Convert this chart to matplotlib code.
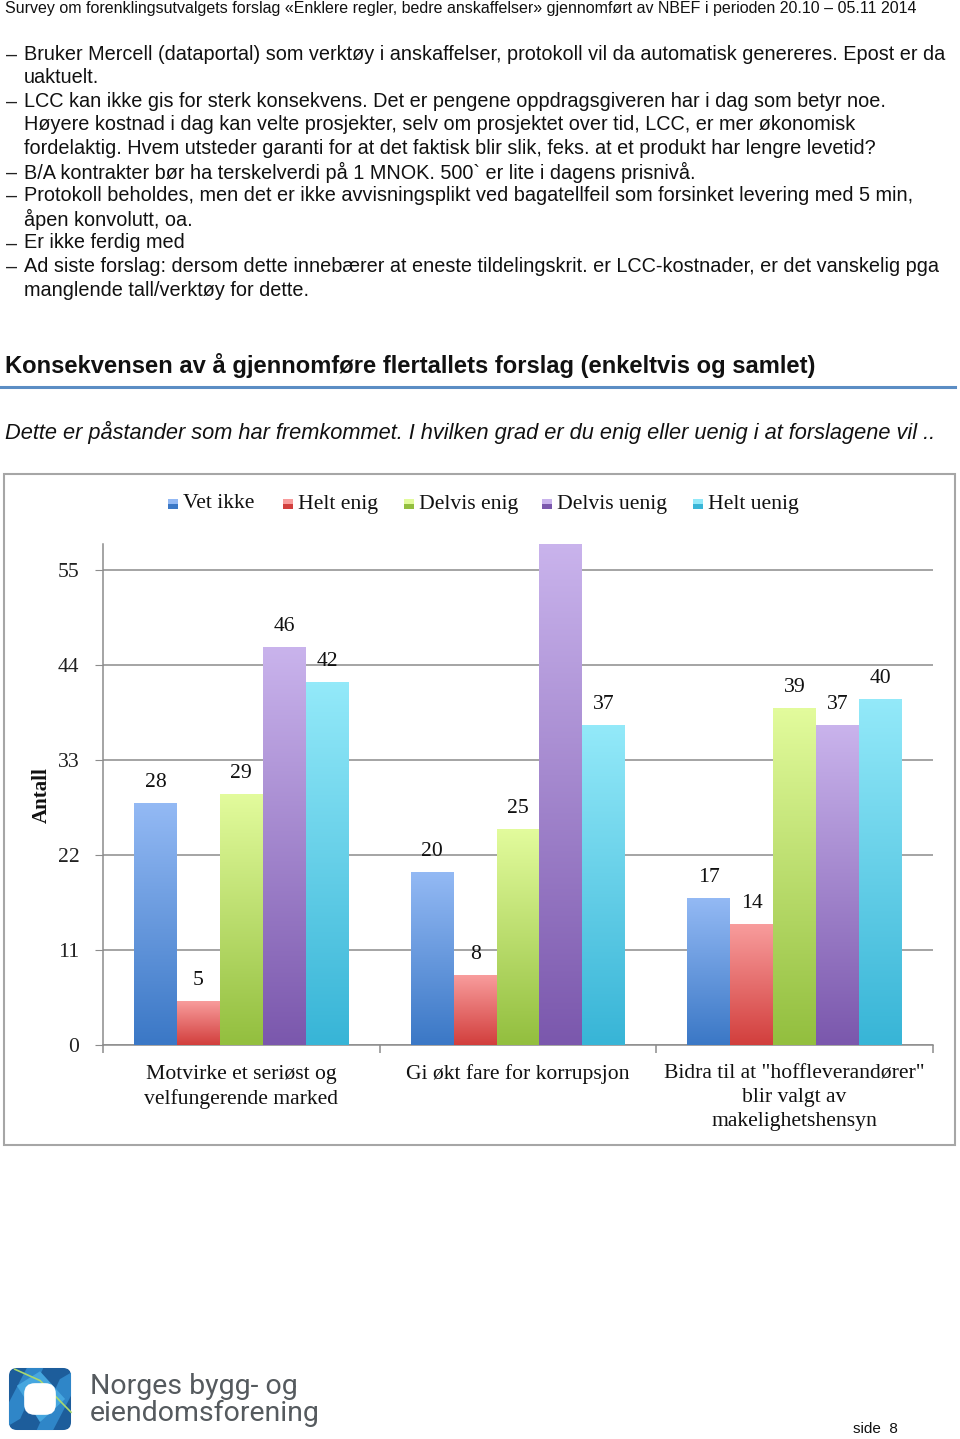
import numpy as np
import matplotlib
matplotlib.use("Agg")
import matplotlib.pyplot as plt
from matplotlib.patches import Rectangle, FancyBboxPatch, Polygon
from matplotlib.colors import to_rgb

# ---------------- data ----------------
categories = ["Motvirke et seriøst og\nvelfungerende marked",
              "Gi økt fare for korrupsjon",
              "Bidra til at \"hoffleverandører\"\nblir valgt av\nmakelighetshensyn"]
series = ["Vet ikke", "Helt enig", "Delvis enig", "Delvis uenig", "Helt uenig"]
vet_ikke = [28, 20, 17]
helt_enig = [5, 8, 14]
delvis_enig = [29, 25, 39]
delvis_uenig = [46, 58, 37]
helt_uenig = [42, 37, 40]
yticks = [0, 11, 22, 33, 44, 55]
show_label_max = 55  # labels above the plot top are clipped in the original

header = "Survey om forenklingsutvalgets forslag «Enklere regler, bedre anskaffelser» gjennomført av NBEF i perioden 20.10 – 05.11 2014"
bullets = [
    ["Bruker Mercell (dataportal) som verktøy i anskaffelser, protokoll vil da automatisk genereres. Epost er da",
     "uaktuelt."],
    ["LCC kan ikke gis for sterk konsekvens. Det er pengene oppdragsgiveren har i dag som betyr noe.",
     "Høyere kostnad i dag kan velte prosjekter, selv om prosjektet over tid, LCC, er mer økonomisk",
     "fordelaktig. Hvem utsteder garanti for at det faktisk blir slik, feks. at et produkt har lengre levetid?"],
    ["B/A kontrakter bør ha terskelverdi på 1 MNOK. 500` er lite i dagens prisnivå."],
    ["Protokoll beholdes, men det er ikke avvisningsplikt ved bagatellfeil som forsinket levering med 5 min,",
     "åpen konvolutt, oa."],
    ["Er ikke ferdig med"],
    ["Ad siste forslag: dersom dette innebærer at eneste tildelingskrit. er LCC-kostnader, er det vanskelig pga",
     "manglende tall/verktøy for dette."],
]
heading = "Konsekvensen av å gjennomføre flertallets forslag (enkeltvis og samlet)"
question = "Dette er påstander som har fremkommet. I hvilken grad er du enig eller uenig i at forslagene vil .."

# ---------------- styling ----------------
W, H = 960, 1439
top_colors = ["#93b9f4", "#f89c9c", "#e2fb9c", "#c9b3ec", "#93e9f9"]
bot_colors = ["#3b78c6", "#d23f3d", "#93bf3f", "#7b58ad", "#38b5d7"]
SANS = "Liberation Sans"
SERIF = "Liberation Serif"
CFS = 15.6  # chart font size

fig = plt.figure(figsize=(W / 100, H / 100), dpi=100)
fig.patch.set_facecolor("white")


def fx(x):
    return x / W


def fy(y):
    return 1 - y / H


def ftext(x, y, s, **kw):
    kw.setdefault("va", "center")
    kw.setdefault("ha", "left")
    return fig.text(fx(x), fy(y), s, **kw)


# header
ftext(5, 8, header, fontsize=11.5, family=SANS, color="#111111")

# bullets
y = 54
for b in bullets:
    for i, line in enumerate(b):
        if i == 0:
            ftext(6, y + 1, "–", fontsize=14.3, family=SANS, color="#222222")
        ftext(24, y, line, fontsize=14.3, family=SANS, color="#111111")
        y += 23.6

ftext(5, 365, heading, fontsize=17.1, family=SANS, weight="bold", color="#111111")
fig.add_artist(plt.Line2D([fx(0), fx(955)], [fy(387), fy(387)], color="#5b8dc4", lw=2.2))
ftext(5, 432, question, fontsize=15.7, family=SANS, style="italic", color="#111111")

# chart frame
fig.add_artist(Rectangle((fx(4), fy(1145)), fx(951), (1145 - 474) / H,
                         transform=fig.transFigure, fill=False, ec="#a6a6a6", lw=1.5))

# axes
ax = fig.add_axes([fx(103), fy(1045), fx(933 - 103), (1045 - 544) / H])
ax.set_facecolor("none")
ymax = 58
ax.set_xlim(-0.5, 2.5)
ax.set_ylim(0, ymax)

data = [vet_ikke, helt_enig, delvis_enig, delvis_uenig, helt_uenig]
x = np.arange(len(categories))
bw = 0.155
n = len(series)
for si, vals in enumerate(data):
    xs = x + (si - (n - 1) / 2) * bw
    bars = ax.bar(xs, vals, width=bw, color="none", edgecolor="none", zorder=3)
    c0 = np.array(to_rgb(top_colors[si]))
    c1 = np.array(to_rgb(bot_colors[si]))
    t = np.linspace(0, 1, 64)[:, None]
    grad = (c0[None, :] * (1 - t) + c1[None, :] * t)[:, None, :]
    for rect, v in zip(bars, vals):
        x0 = rect.get_x()
        x1 = x0 + rect.get_width()
        ax.imshow(grad, extent=[x0, x1, 0, rect.get_height()], aspect="auto",
                  interpolation="bilinear", zorder=3, clip_on=True)
        if v <= show_label_max:
            ax.annotate(str(v), (rect.get_x() + rect.get_width() / 2, v),
                        xytext=(0, 21), textcoords="offset pixels",
                        ha="center", va="center", fontsize=CFS, family=SERIF, color="#111111")

ax.set_xlim(-0.5, 2.5)
ax.set_ylim(0, ymax)

ax.set_yticks(yticks)
ax.set_yticklabels([str(v) for v in yticks], fontsize=CFS, family=SERIF)
ax.yaxis.grid(True, color="#8c8c8c", lw=1.1, zorder=0)
ax.set_axisbelow(True)
ax.tick_params(axis="y", length=6, color="#8c8c8c", pad=11, labelcolor="#222222")
ax.set_xticks([-0.5, 0.5, 1.5, 2.5])
ax.set_xticklabels([])
ax.tick_params(axis="x", length=6, color="#8c8c8c", width=1.1)
for sp in ["top", "right"]:
    ax.spines[sp].set_visible(False)
ax.spines["left"].set_color("#8c8c8c")
ax.spines["bottom"].set_color("#8c8c8c")
ax.spines["left"].set_linewidth(1.1)
ax.spines["bottom"].set_linewidth(1.1)

for xi, cat in zip(x, categories):
    ax.text(xi, -0.039, cat, transform=ax.get_xaxis_transform(), ha="center", va="top",
            fontsize=CFS, family=SERIF, color="#111111", linespacing=1.34)

ftext(42, 795, "Antall", rotation=90, ha="center", fontsize=15, family=SERIF,
      weight="bold", color="#111111")

# legend (manual)
leg_x = [168, 283, 404, 542, 693]
for si, name in enumerate(series):
    x0 = leg_x[si]
    fig.add_artist(Rectangle((fx(x0), fy(509)), fx(10), 10 / H, transform=fig.transFigure,
                             fc=bot_colors[si], ec="none"))
    fig.add_artist(Rectangle((fx(x0), fy(504)), fx(10), 5 / H, transform=fig.transFigure,
                             fc=top_colors[si], ec="none"))
    ftext(x0 + 15, 504, name, fontsize=CFS, family=SERIF, color="#111111")

# logo
lx0, ly0, ls = 7, 1366, 66
logo_ax = fig.add_axes([fx(lx0), fy(ly0 + ls), fx(ls), ls / H])
logo_ax.set_xlim(0, 1)
logo_ax.set_ylim(0, 1)
logo_ax.axis("off")
logo_ax.add_patch(FancyBboxPatch((0.03, 0.03), 0.94, 0.94, boxstyle="round,pad=0,rounding_size=0.12",
                                 fc="#1d5d9b", ec="none", zorder=1))
logo_ax.add_patch(Polygon([[0.03, 0.45], [0.3, 0.97], [0.55, 0.97], [0.2, 0.2], [0.03, 0.1]],
                          closed=True, fc="#2f86c8", ec="none", zorder=2))
logo_ax.add_patch(Polygon([[0.97, 0.55], [0.7, 0.03], [0.45, 0.03], [0.8, 0.8], [0.97, 0.9]],
                          closed=True, fc="#2f86c8", ec="none", zorder=2))
logo_ax.add_patch(Polygon([[0.15, 0.7], [0.5, 0.92], [0.88, 0.5], [0.5, 0.15]],
                          closed=True, fc="#45a6df", ec="none", zorder=3))
logo_ax.plot([0.12, 0.5, 0.97], [0.95, 0.78, 0.3], color="#a9d86e", lw=1.2, zorder=4)
logo_ax.add_patch(FancyBboxPatch((0.26, 0.26), 0.48, 0.48, boxstyle="round,pad=0,rounding_size=0.16",
                                 fc="white", ec="none", zorder=5))
ftext(90, 1387, "Norges bygg- og", fontsize=20.5, family="Roboto", color="#555a5e")
ftext(90, 1413, "eiendomsforening", fontsize=20.5, family="Roboto", color="#555a5e")
ftext(853, 1429, "side  8", fontsize=11, family=SANS, color="#111111")

fig.savefig("out.png", dpi=100, facecolor="white")
